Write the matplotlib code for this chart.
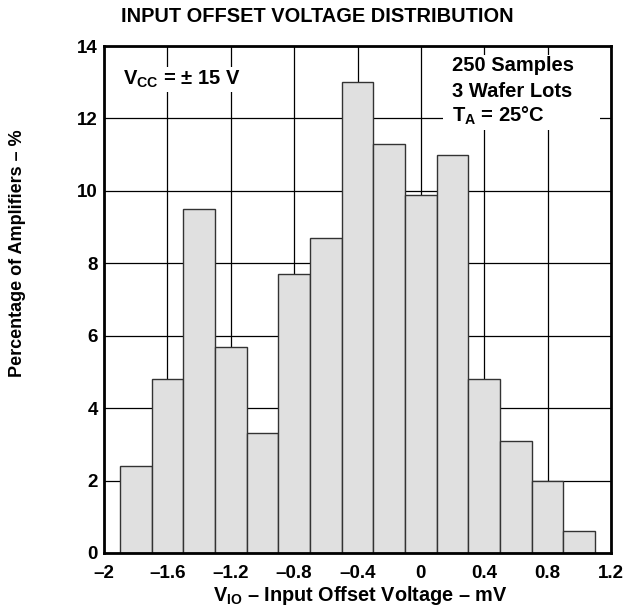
import numpy as np
import matplotlib
matplotlib.use("Agg")
import matplotlib.pyplot as plt
from matplotlib.patches import Rectangle

plt.rcParams['font.family'] = ['Liberation Sans', 'DejaVu Sans']
plt.rcParams['font.weight'] = 'bold'
plt.rcParams['mathtext.fontset'] = 'custom'
plt.rcParams['mathtext.rm'] = 'Liberation Sans:bold'
plt.rcParams['mathtext.bf'] = 'Liberation Sans:bold'

# bin centres (mV) and percentage of amplifiers
bin_centres = [-1.8, -1.6, -1.4, -1.2, -1.0, -0.8, -0.6, -0.4,
               -0.2, 0.0, 0.2, 0.4, 0.6, 0.8, 1.0]
percentages = [2.4, 4.8, 9.5, 5.7, 3.3, 7.7, 8.7, 13.0,
               11.3, 9.9, 11.0, 4.8, 3.1, 2.0, 0.6]
bin_width = 0.2
x_ticks = [-2, -1.6, -1.2, -0.8, -0.4, 0, 0.4, 0.8, 1.2]
x_tick_labels = ['\u20132', '\u20131.6', '\u20131.2', '\u20130.8', '\u20130.4',
                 '0', '0.4', '0.8', '1.2']
y_ticks = [0, 2, 4, 6, 8, 10, 12, 14]
notes = ['250 Samples', '3 Wafer Lots', 'T$_{\\mathrm{A}}$ = 25\u00b0C']

fig = plt.figure(figsize=(6.24, 6.13), dpi=100)
ax = fig.add_axes([0.1667, 0.0979, 0.8125, 0.827])

ax.bar(bin_centres, percentages, width=bin_width, color='#e0e0e0',
       edgecolor='#333333', linewidth=1.0, zorder=2)

ax.set_xlim(-2, 1.2)
ax.set_ylim(0, 14)
ax.set_xticks(x_ticks)
ax.set_xticklabels(x_tick_labels)
ax.set_yticks(y_ticks)
ax.tick_params(length=0, labelsize=13.5, pad=8.5)
ax.tick_params(axis='y', pad=4.5)
for lab in ax.get_xticklabels() + ax.get_yticklabels():
    lab.set_fontweight('bold')

ax.grid(True, color='black', linewidth=0.9, zorder=0)
ax.set_axisbelow(True)
for sp in ax.spines.values():
    sp.set_linewidth(2.0)
    sp.set_zorder(5)

fig.text(0.578, 0.020, 'V$_{\\mathrm{IO}}$ \u2013 Input Offset Voltage \u2013 mV',
         ha='center', va='baseline', fontsize=14.3, fontweight='bold')
fig.text(0.0288, 0.587, 'Percentage of Amplifiers \u2013 %', rotation=90,
         ha='center', va='center', fontsize=13, fontweight='bold')

fig.text(0.508, 0.973, 'INPUT OFFSET VOLTAGE DISTRIBUTION', ha='center',
         va='center', fontsize=14.4, fontweight='bold')

ax.text(0.037, 0.923, 'V$_{\\mathrm{CC}}$ = \u00b1 15 V', transform=ax.transAxes,
        fontsize=14.5, fontweight='bold', va='baseline', ha='left',
        bbox=dict(facecolor='white', edgecolor='none', pad=1.5), zorder=4)

# white patch behind the sample notes
ax.add_patch(Rectangle((0.669, 0.834), 0.309, 0.148, transform=ax.transAxes,
                       facecolor='white', edgecolor='none', zorder=3))
for note, yb in zip(notes, [0.9517, 0.8994, 0.8501]):
    ax.text(0.6864, yb, note, transform=ax.transAxes, fontsize=14.5,
            fontweight='bold', va='baseline', ha='left', zorder=4)

fig.savefig('out.png', dpi=100)
